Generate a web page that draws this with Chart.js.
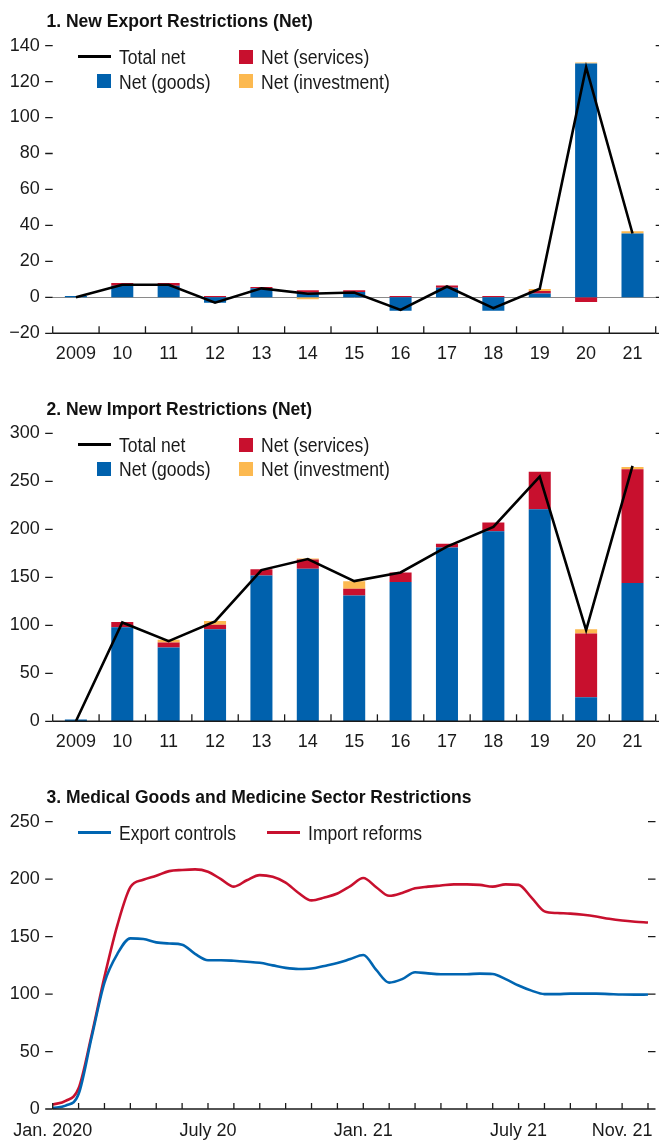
<!DOCTYPE html>
<html><head><meta charset="utf-8">
<script src="https://cdn.jsdelivr.net/npm/chart.js@4.4.1/dist/chart.umd.min.js"></script>
<style>
html,body{margin:0;padding:0;background:#fff;}
body{width:659px;height:1141px;position:relative;overflow:hidden;font-family:"Liberation Sans",Arial,sans-serif;color:#1a1a1a;}
canvas{position:absolute;left:0;}
.title{position:absolute;left:46.5px;font-family:"Liberation Sans",Arial,sans-serif;font-weight:bold;font-size:17.5px;line-height:20px;white-space:nowrap;color:#111;z-index:2;}
.lgt{position:absolute;font-size:19.5px;line-height:20px;white-space:nowrap;color:#1a1a1a;z-index:2;transform:scaleX(0.9);transform-origin:0 50%;}
.sym{position:absolute;z-index:2;}
</style></head><body>
<canvas id="c1" width="659" height="375" style="top:0px"></canvas>
<canvas id="c2" width="659" height="390" style="top:375px"></canvas>
<canvas id="c3" width="659" height="376" style="top:765px"></canvas>
<div class="title" style="top:10.5px">1. New Export Restrictions (Net)</div>
<div class="title" style="top:399px">2. New Import Restrictions (Net)</div>
<div class="title" style="top:786.5px">3. Medical Goods and Medicine Sector Restrictions</div>
<div id="legends"></div>
<script>
// ---------- DATA ----------
const years = ['2009','10','11','12','13','14','15','16','17','18','19','20','21'];

const exportGoods      = [0.7, 6.5, 6.5, -3, 5, 2.5, 3, -7.5, 5.3, -7.5, 2.2, 130, 35.5];
const exportServices   = [0, 1.5, 1.5, 0.7, 0.7, 1.4, 1, 0.8, 1.3, 0.8, 1.3, -2.6, 0];
const exportInvestment = [0, 0, 0, 0, 0, -1, 0, 0, 0, 0, 1.1, 0.6, 1.2];
const exportTotal      = [0, 7, 7, -3, 5, 2, 2.7, -7, 6, -6, 4.8, 128, 35.5];

const importGoods      = [2, 98, 77, 96, 152, 159, 131, 145, 181, 198, 221, 25, 144];
const importServices   = [0, 5.5, 5, 4.5, 6.5, 9.5, 7, 10, 4, 9, 39, 66.5, 118.5];
const importInvestment = [0, 0, 3, 4, 0, 1, 8, 0, 0, 0, 0, 4.5, 2.5];
const importTotal      = [0, 103, 83.5, 104, 157.5, 169, 146, 155, 182, 202.5, 255, 95, 266];

const exportTicks = [-20, 0, 20, 40, 60, 80, 100, 120, 140];
const importTicks = [0, 50, 100, 150, 200, 250, 300];
const medicalTicks = [0, 50, 100, 150, 200, 250];

// months since Jan. 2020
const medMonths = [0,0.5,1,1.5,2,2.5,3,3.5,4,4.5,5,5.5,6,6.5,7,7.5,8,8.5,9,9.5,10,10.5,11,11.5,12,12.5,13,13.5,14,14.5,15,15.5,16,16.5,17,17.5,18,18.5,19,19.5,20,20.5,21,21.5,22,22.5,23];
const exportControls = [1,3,13,62,110,135,148.5,148,145,144,143,135,129.5,129.5,129,128.2,127.2,125,122.8,121.8,122.2,124.5,127,130.5,134,121,110,113,119,118,117.3,117.3,117.3,117.8,117.5,113,107.5,103,100,100,100.4,100.4,100.4,100,99.6,99.5,99.6];
const importReforms  = [4,7,18,64,115,160,193,199.5,203,207,208,208.5,206.5,200,193.5,199,203.5,202,197,188,181.5,184,187.5,194,201,193,185.5,188,192,193.5,194.5,195.5,195.5,195,193.5,195.5,195,184,172,170.5,170,169,167.5,165.5,164,163,162.3];
const monthTickLabels = {0:'Jan. 2020', 6:'July 20', 12:'Jan. 21', 18:'July 21', 22:'Nov. 21'};

// ---------- STYLE ----------
const BLUE = '#0061ad', RED = '#c8102e', ORANGE = '#fcb950', BLACK = '#000';
const LINE_BLUE = '#0065b1', LINE_RED = '#c8102e';
const tickFont = {family:'"Liberation Sans",Arial,sans-serif', size:18};
const tickColor = '#1a1a1a';
const fmt = v => (v < 0 ? '\u2212' + Math.abs(v) : String(v));

const decor = {
  id: 'decor',
  beforeDatasetsDraw(chart, args, o) {
    if (!o.zeroLine) return;
    const {ctx, chartArea: a, scales: {y}} = chart;
    const yz = Math.round(y.getPixelForValue(0)) + 0.5;
    ctx.save(); ctx.strokeStyle = '#8a8a8a'; ctx.lineWidth = 1;
    ctx.beginPath(); ctx.moveTo(a.left, yz); ctx.lineTo(a.right, yz); ctx.stroke(); ctx.restore();
  },
  afterDatasetsDraw(chart, args, o) {
    const {ctx, chartArea: a, scales: {x, y}} = chart;
    ctx.save();
    ctx.strokeStyle = '#1a1a1a';
    ctx.lineWidth = 1.3;
    y.ticks.forEach(t => {
      const py = y.getPixelForValue(t.value);
      ctx.beginPath(); ctx.moveTo(a.left - 7.5, py); ctx.lineTo(a.left, py);
      ctx.moveTo(a.right, py); ctx.lineTo(a.right + 7.5, py); ctx.stroke();
    });
    ctx.lineWidth = 1.6;
    ctx.beginPath(); ctx.moveTo(a.left, a.bottom); ctx.lineTo(a.right, a.bottom); ctx.stroke();
    ctx.lineWidth = 1.3;
    if (o.category) {
      const n = chart.data.labels.length;
      for (let i = 0; i <= n; i++) {
        const px = a.left + i * a.width / n;
        ctx.beginPath(); ctx.moveTo(px, a.bottom); ctx.lineTo(px, a.bottom - 7); ctx.stroke();
      }
    } else {
      x.ticks.forEach(t => {
        const px = x.getPixelForValue(t.value);
        ctx.beginPath(); ctx.moveTo(px, a.bottom); ctx.lineTo(px, a.bottom - 6); ctx.stroke();
      });
    }
    ctx.restore();
  }
};

function barChart(id, goods, services, inv, total, tickVals, padTop, xHeight, zeroLine) {
  return new Chart(document.getElementById(id), {
    type: 'bar',
    data: {
      labels: years,
      datasets: [
        {type:'line', label:'Total net', data: total, borderColor: BLACK, borderWidth: 2.6, pointRadius: 0, tension: 0, stack: 'total', order: 0},
        {label:'Net (goods)', data: goods, backgroundColor: BLUE, stack: 'bars', order: 1},
        {label:'Net (services)', data: services, backgroundColor: RED, stack: 'bars', order: 1},
        {label:'Net (investment)', data: inv, backgroundColor: ORANGE, stack: 'bars', order: 1}
      ]
    },
    options: {
      responsive: false, animation: false, devicePixelRatio: 1,
      layout: {padding: {top: padTop, right: 3.3, left: 0, bottom: 0}},
      datasets: {bar: {categoryPercentage: 1, barPercentage: 0.475}},
      plugins: {legend: {display: false}, tooltip: {enabled: false}, decor: {category: true, zeroLine: zeroLine}},
      scales: {
        x: {stacked: true, grid: {display: false, drawTicks: false}, border: {display: false},
            ticks: {font: tickFont, color: tickColor, padding: 10, maxRotation: 0, autoSkip: false},
            afterFit: s => { s.height = xHeight; }},
        y: {stacked: true, min: tickVals[0], max: tickVals[tickVals.length - 1],
            grid: {display: false, drawTicks: false}, border: {display: false},
            afterBuildTicks: s => { s.ticks = tickVals.map(v => ({value: v})); },
            ticks: {font: tickFont, color: tickColor, padding: 13, callback: v => fmt(v)},
            afterFit: s => { s.width = 52.7; }}
      }
    },
    plugins: [decor]
  });
}

const c1 = barChart('c1', exportGoods, exportServices, exportInvestment, exportTotal, exportTicks, 45.6, 41.7, true);
const c2 = barChart('c2', importGoods, importServices, importInvestment, importTotal, importTicks, 58.3, 43.7, false);

const c3 = new Chart(document.getElementById('c3'), {
  type: 'line',
  data: {
    datasets: [
      {label:'Export controls', data: medMonths.map((m, i) => ({x: m, y: exportControls[i]})), borderColor: LINE_BLUE, borderWidth: 2.6, pointRadius: 0, cubicInterpolationMode: 'monotone', order: 0},
      {label:'Import reforms', data: medMonths.map((m, i) => ({x: m, y: importReforms[i]})), borderColor: LINE_RED, borderWidth: 2.6, pointRadius: 0, cubicInterpolationMode: 'monotone', order: 1}
    ]
  },
  options: {
    responsive: false, animation: false, devicePixelRatio: 1,
    layout: {padding: {top: 56.7, right: 3.3, left: 0, bottom: 0}},
    plugins: {legend: {display: false}, tooltip: {enabled: false}, decor: {category: false, zeroLine: false}},
    scales: {
      x: {type: 'linear', min: 0, max: 23, grid: {display: false, drawTicks: false}, border: {display: false},
          afterBuildTicks: s => { s.ticks = Array.from({length: 24}, (_, i) => ({value: i})); },
          ticks: {font: tickFont, color: tickColor, padding: 11, maxRotation: 0, autoSkip: false,
                  callback: v => monthTickLabels[v] || ''},
          afterFit: s => { s.height = 32; }},
      y: {min: medicalTicks[0], max: medicalTicks[medicalTicks.length - 1],
          grid: {display: false, drawTicks: false}, border: {display: false},
          afterBuildTicks: s => { s.ticks = medicalTicks.map(v => ({value: v})); },
          ticks: {font: tickFont, color: tickColor, padding: 13, callback: v => fmt(v)},
          afterFit: s => { s.width = 52.7; }}
    }
  },
  plugins: [decor]
});

// ---------- HTML legends built from the chart datasets ----------
const L = document.getElementById('legends');
function addLegend(chart, rows, cols, order) {
  order.forEach((dsIndex, k) => {
    const ds = chart.data.datasets[dsIndex];
    const row = Math.floor(k / cols.length), col = k % cols.length;
    const cy = rows[row];
    const tx = cols[col];
    const isLine = (ds.type === 'line') || chart.config.type === 'line';
    const sym = document.createElement('div');
    sym.className = 'sym';
    if (isLine) {
      sym.style.cssText = `left:${tx - 41.5}px;top:${cy - 1.4}px;width:33px;height:2.8px;background:${ds.borderColor}`;
    } else {
      sym.style.cssText = `left:${tx - 22.5}px;top:${cy - 7}px;width:14px;height:14px;background:${ds.backgroundColor}`;
    }
    L.appendChild(sym);
    const t = document.createElement('div');
    t.className = 'lgt';
    t.style.left = tx + 'px';
    t.style.top = (cy - 9.5) + 'px';
    t.textContent = ds.label;
    L.appendChild(t);
  });
}
addLegend(c1, [56.7, 81], [119.3, 261], [0, 2, 1, 3]);
addLegend(c2, [444.5, 468.7], [119.3, 261], [0, 2, 1, 3]);
addLegend(c3, [832.3], [119.3, 308.3], [0, 1]);
</script>
</body></html>
